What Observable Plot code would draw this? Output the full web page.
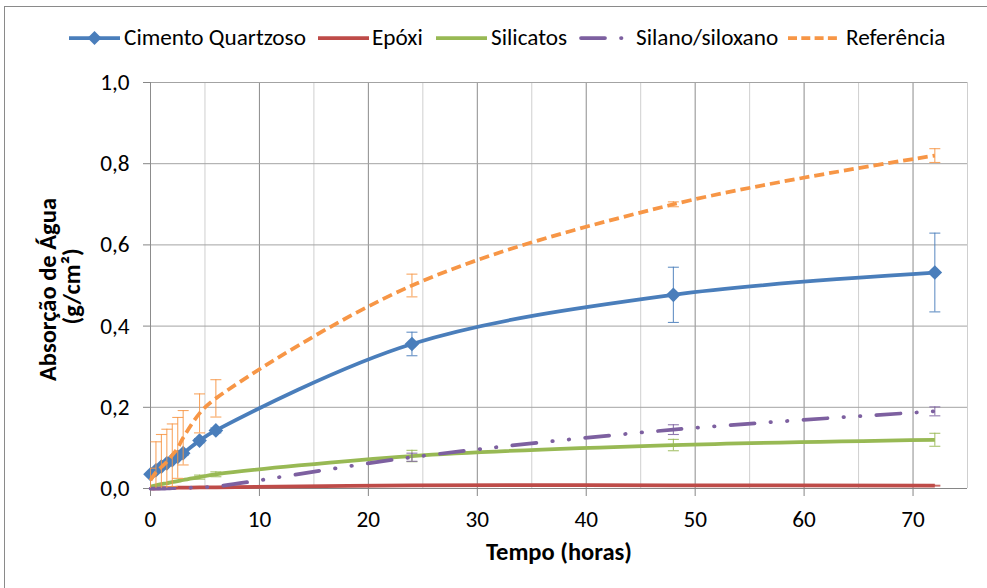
<!DOCTYPE html>
<html><head><meta charset="utf-8">
<script src="https://cdn.jsdelivr.net/npm/d3@7"></script>
<script src="https://cdn.jsdelivr.net/npm/@observablehq/plot@0.6"></script>
<style>
html,body{margin:0;padding:0;background:#fff;}
#wrap{position:relative;width:987px;height:588px;overflow:hidden;background:#fff;}
#frame{position:absolute;left:4px;top:6px;width:1100px;height:1000px;border:1.5px solid #8a8a8a;box-sizing:border-box;}
#legend{position:absolute;left:0;top:0;width:987px;height:60px;}
#legend .sw{position:absolute;top:28px;}
#legend .tx{position:absolute;top:38px;transform:translateY(-50%);white-space:nowrap;color:#000;line-height:1;}
#chart{position:absolute;left:0;top:60px;}
</style></head><body>
<div id="wrap"><div id="frame"></div><div id="legend"></div><div id="chart"></div></div>
<script>
// ---- data ----
const times = [0, 0.5, 1, 1.5, 2, 2.5, 3, 4.5, 6, 24, 48, 72];
const seriesNames = ["Cimento Quartzoso", "Epóxi", "Silicatos", "Silano/siloxano", "Referência"];
const cimento    = [0.035, 0.045, 0.054, 0.062, 0.070, 0.078, 0.087, 0.118, 0.143, 0.356, 0.477, 0.532];
const cimentoErr = [0.005, 0.005, 0.005, 0.005, 0.005, 0.005, 0.005, 0.005, 0.006, 0.029, 0.068, 0.097];
const epoxi      = [0.000, 0.000, 0.001, 0.001, 0.001, 0.002, 0.002, 0.003, 0.003, 0.008, 0.008, 0.007];
const epoxiErr   = [0, 0, 0, 0, 0, 0, 0, 0, 0, 0.001, 0.001, 0.001];
const silicatos  = [0.005, 0.008, 0.011, 0.013, 0.016, 0.018, 0.021, 0.028, 0.035, 0.080, 0.107, 0.120];
const silicatosErr = [0, 0, 0, 0, 0, 0, 0, 0.005, 0.006, 0.014, 0.014, 0.016];
const silano     = [0.000, 0.000, 0.000, 0.000, 0.001, 0.001, 0.001, 0.003, 0.005, 0.077, 0.145, 0.190];
const silanoErr  = [0, 0, 0, 0, 0, 0, 0, 0, 0, 0.010, 0.012, 0.011];
const referencia = [0.020, 0.040, 0.053, 0.066, 0.082, 0.100, 0.125, 0.185, 0.222, 0.500, 0.700, 0.820];
const referenciaErr = [0.030, 0.075, 0.080, 0.080, 0.077, 0.075, 0.067, 0.048, 0.046, 0.028, 0.006, 0.017];
const xTicks = [0, 10, 20, 30, 40, 50, 60, 70];
const xMinor = [5, 15, 25, 35, 45, 55, 65, 75];
const yTicks = [0, 0.2, 0.4, 0.6, 0.8, 1.0];
const xLabel = "Tempo (horas)";
const yLabel1 = "Absorção de Água";
const yLabel2 = "(g/cm²)";

// ---- styles ----
const colors = ["#4a7ebb", "#be4b48", "#98b954", "#7d60a0", "#f79646"];
const dashes = [null, null, null, "24,16,0.5,16,0.5,16", "10,5"];
const caps = ["butt", "butt", "butt", "round", "butt"];
const values = [cimento, epoxi, silicatos, silano, referencia];
const errs = [cimentoErr, epoxiErr, silicatosErr, silanoErr, referenciaErr];

// font calibration (Calibri-like metrics)
const fam = "Carlito, Lato, 'Open Sans', sans-serif";
const cv = document.createElement("canvas").getContext("2d");
cv.font = `100px ${fam}`;
const fontPx = 100 * 182 / cv.measureText("Cimento Quartzoso").width;
cv.font = `bold 100px ${fam}`;
const boldPx = 100 * 146 / cv.measureText(xLabel).width;

// ---- legend ----
const legend = document.getElementById("legend");
const swX = [69, 318, 436, 579, 788];
const txX = [124, 372, 491, 636, 846];
seriesNames.forEach((name, i) => {
  const ns = "http://www.w3.org/2000/svg";
  const svg = document.createElementNS(ns, "svg");
  svg.setAttribute("width", 52); svg.setAttribute("height", 20);
  svg.setAttribute("class", "sw");
  svg.style.left = swX[i] + "px";
  const ln = document.createElementNS(ns, "line");
  const x0 = i === 3 ? 2 : 0;
  ln.setAttribute("x1", x0); ln.setAttribute("x2", 51); ln.setAttribute("y1", 10); ln.setAttribute("y2", 10);
  ln.setAttribute("stroke", colors[i]); ln.setAttribute("stroke-width", 3.75);
  ln.setAttribute("stroke-linecap", caps[i]);
  if (dashes[i]) ln.setAttribute("stroke-dasharray", i === 4 ? "9,4.3" : dashes[i]);
  svg.appendChild(ln);
  if (i === 0) {
    const p = document.createElementNS(ns, "path");
    p.setAttribute("d", "M25.5,3L32.5,10L25.5,17L18.5,10Z");
    p.setAttribute("fill", colors[0]);
    svg.appendChild(p);
  }
  legend.appendChild(svg);
  const t = document.createElement("div");
  t.className = "tx"; t.textContent = name;
  t.style.left = txX[i] + "px"; t.style.fontFamily = fam; t.style.fontSize = fontPx + "px";
  legend.appendChild(t);
});

// ---- chart ----
const rows = [];
seriesNames.forEach((s, i) => times.forEach((t, j) => rows.push({s, t, v: values[i][j], e: errs[i][j]})));
const capSymbol = {draw(ctx, size) { const w = Math.sqrt(size / Math.PI); ctx.moveTo(-w, 0); ctx.lineTo(w, 0); }};
const fmt = d => d.toFixed(1).replace(".", ",");

const seriesMarks = [];
seriesNames.forEach((s, i) => {
  const d = rows.filter(r => r.s === s);
  const de = d.filter(r => r.e > 0);
  seriesMarks.push(Plot.line(d, {x: "t", y: "v", stroke: colors[i], strokeWidth: 3.75, curve: "catmull-rom",
    strokeDasharray: dashes[i] ?? undefined, strokeLinecap: caps[i], strokeLinejoin: "round"}));
  seriesMarks.push(Plot.ruleX(de, {x: "t", y1: r => r.v - r.e, y2: r => r.v + r.e, stroke: colors[i], strokeWidth: 1.1, strokeOpacity: 0.85, clip: true}));
  seriesMarks.push(Plot.dot(de, {x: "t", y: r => r.v + r.e, symbol: capSymbol, r: 5.5, stroke: colors[i], fill: "none", strokeWidth: 1.1, strokeOpacity: 0.85, clip: true}));
  seriesMarks.push(Plot.dot(de, {x: "t", y: r => r.v - r.e, symbol: capSymbol, r: 5.5, stroke: colors[i], fill: "none", strokeWidth: 1.1, strokeOpacity: 0.85, clip: true}));
  if (i === 0) seriesMarks.push(Plot.dot(d, {x: "t", y: "v", symbol: "diamond2", r: 6.6, fill: colors[0], stroke: "none"}));
});

const chart = Plot.plot({
  width: 987, height: 528,
  marginTop: 22, marginBottom: 100, marginLeft: 150, marginRight: 20,
  style: {fontFamily: fam, fontSize: fontPx + "px", color: "#000", background: "transparent"},
  x: {domain: [0, 75], axis: null},
  y: {domain: [0, 1], axis: null},
  marks: [
    Plot.ruleX(xMinor, {stroke: "#cfcfcf", strokeWidth: 1}),
    Plot.ruleX(xTicks.filter(d => d > 0), {stroke: "#8c8c8c", strokeWidth: 1}),
    Plot.ruleY(yTicks, {stroke: "#a3a3a3", strokeWidth: 1}),
    Plot.ruleX([0], {stroke: "#8c8c8c", strokeWidth: 1}),
    Plot.ruleY([0], {stroke: "#868686", strokeWidth: 1.2}),
    Plot.axisX(xTicks, {anchor: "bottom", tickSize: 8, tickPadding: 14, stroke: "#868686", fill: "#000", fontSize: fontPx, tickFormat: d => String(d), label: null}),
    Plot.axisY(yTicks, {anchor: "left", tickSize: 7, tickPadding: 14, stroke: "#868686", fill: "#000", fontSize: fontPx, tickFormat: fmt, label: null}),
    ...seriesMarks,
    Plot.text([yLabel1], {frameAnchor: "left", textAnchor: "middle", lineAnchor: "middle", dx: -102, dy: 4, rotate: -90, fontWeight: "bold", fontSize: boldPx, fill: "#000"}),
    Plot.text([yLabel2], {frameAnchor: "left", textAnchor: "middle", lineAnchor: "middle", dx: -78, dy: 1, rotate: -90, fontWeight: "bold", fontSize: boldPx, fill: "#000"}),
    Plot.text([xLabel], {frameAnchor: "bottom", textAnchor: "middle", lineAnchor: "middle", dy: 64, fontWeight: "bold", fontSize: boldPx, fill: "#000"})
  ]
});
document.getElementById("chart").appendChild(chart);
</script>
</body></html>
